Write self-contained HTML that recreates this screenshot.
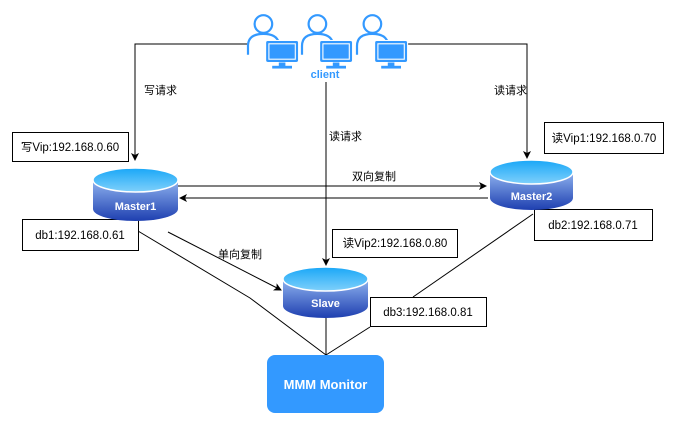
<!DOCTYPE html>
<html><head><meta charset="utf-8"><style>
body{margin:0;background:#fff;}
svg text{font-family:"Liberation Sans","Noto Sans CJK SC",sans-serif;}
</style></head><body>
<svg width="687" height="421" viewBox="0 0 687 421" xmlns="http://www.w3.org/2000/svg">
<defs>
<linearGradient id="cb" x1="0" y1="0" x2="0" y2="1"><stop offset="0" stop-color="#8fb3ef"/><stop offset="1" stop-color="#1e3fb0"/></linearGradient>
<linearGradient id="ct" x1="0" y1="0" x2="0" y2="1"><stop offset="0" stop-color="#19a7f7"/><stop offset="1" stop-color="#7fd0fb"/></linearGradient>
<marker id="a" markerWidth="8" markerHeight="8" refX="7" refY="4" orient="auto" markerUnits="userSpaceOnUse"><path d="M0,0 L8,4 L0,8 L2,4 z" fill="#000"/></marker>
<g id="usr">
<circle cx="14" cy="10" r="8" fill="#fff" stroke="#3399ff" stroke-width="2"/>
<path d="M0,38 L0,30 Q0,19 14,19 Q26,19 28,27" fill="#fff" stroke="#3399ff" stroke-width="2"/>
<rect x="16" y="25" width="30" height="20" rx="2" fill="#3399ff" stroke="#fff" stroke-width="1"/>
<rect x="19" y="28" width="24" height="14" fill="#3399ff" stroke="#fff" stroke-width="1"/>
<rect x="28" y="45" width="6" height="4" fill="#3399ff"/>
<rect x="22" y="48" width="18" height="2.5" fill="#3399ff"/>
</g>
</defs>
<g stroke="#000" stroke-width="1" fill="none">
<polyline points="250,44 135,44 135,160" marker-end="url(#a)"/>
<polyline points="402,44 527,44 527,158" marker-end="url(#a)"/>
<line x1="326" y1="82" x2="326" y2="265" marker-end="url(#a)"/>
<line x1="178" y1="186" x2="486" y2="186" marker-end="url(#a)"/>
<line x1="488" y1="198" x2="180" y2="198" marker-end="url(#a)"/>
<line x1="168" y1="232" x2="281" y2="290" marker-end="url(#a)"/>
<polyline points="138,231 250,298 326,355"/>
<line x1="326" y1="318" x2="326" y2="355"/>
<line x1="370" y1="327" x2="326" y2="355"/>
<line x1="533" y1="214" x2="413" y2="297"/>
</g>
<use href="#usr" transform="translate(248,13) scale(1.1)"/>
<use href="#usr" transform="translate(302,13) scale(1.1)"/>
<use href="#usr" transform="translate(357,13) scale(1.1)"/>
<text x="325" y="78" font-size="11" font-weight="bold" fill="#3399ff" text-anchor="middle">client</text>
<g font-size="11" fill="#000">
<text x="144" y="94">写请求</text>
<text x="329" y="140">读请求</text>
<text x="494" y="94">读请求</text>
<text x="352" y="180">双向复制</text>
<text x="218" y="258">单向复制</text>
</g>
<g fill="#fff" stroke="#000" stroke-width="1">
<rect x="12.5" y="132.5" width="116" height="29"/>
<rect x="22.5" y="219.5" width="116" height="31"/>
<rect x="332.5" y="229.5" width="125" height="28"/>
<rect x="370.5" y="297.5" width="116" height="29"/>
<rect x="544.5" y="122.5" width="119" height="31"/>
<rect x="534.5" y="209.5" width="118" height="31"/>
</g>
<g font-size="11.5" fill="#000" text-anchor="middle">
<text x="70" y="151">写Vip:192.168.0.60</text>
<text x="80" y="239">db1:192.168.0.61</text>
<text x="395" y="247">读Vip2:192.168.0.80</text>
<text x="428" y="316">db3:192.168.0.81</text>
<text x="604" y="142">读Vip1:192.168.0.70</text>
<text x="593" y="229">db2:192.168.0.71</text>
</g>
<g>
<path d="M93,180 L93,209 A42.5,12 0 0 0 178,209 L178,180 Z" fill="url(#cb)"/>
<ellipse cx="135.5" cy="180" rx="42.5" ry="12" fill="url(#ct)" stroke="#fff" stroke-width="1.5"/>
<text x="135.5" y="210" font-size="11" font-weight="bold" fill="#fff" text-anchor="middle">Master1</text>
<path d="M490,172 L490,198 A41.5,12 0 0 0 573,198 L573,172 Z" fill="url(#cb)"/>
<ellipse cx="531.5" cy="172" rx="41.5" ry="12" fill="url(#ct)" stroke="#fff" stroke-width="1.5"/>
<text x="531.5" y="200" font-size="11" font-weight="bold" fill="#fff" text-anchor="middle">Master2</text>
<path d="M283,279 L283,306 A42.5,12 0 0 0 368,306 L368,279 Z" fill="url(#cb)"/>
<ellipse cx="325.5" cy="279" rx="42.5" ry="12" fill="url(#ct)" stroke="#fff" stroke-width="1.5"/>
<text x="325.5" y="307" font-size="11" font-weight="bold" fill="#fff" text-anchor="middle">Slave</text>
</g>
<rect x="267" y="355" width="117" height="58" rx="8" fill="#3399ff"/>
<text x="325.5" y="389" font-size="13" font-weight="bold" fill="#fff" text-anchor="middle">MMM Monitor</text>
</svg>
</body></html>
